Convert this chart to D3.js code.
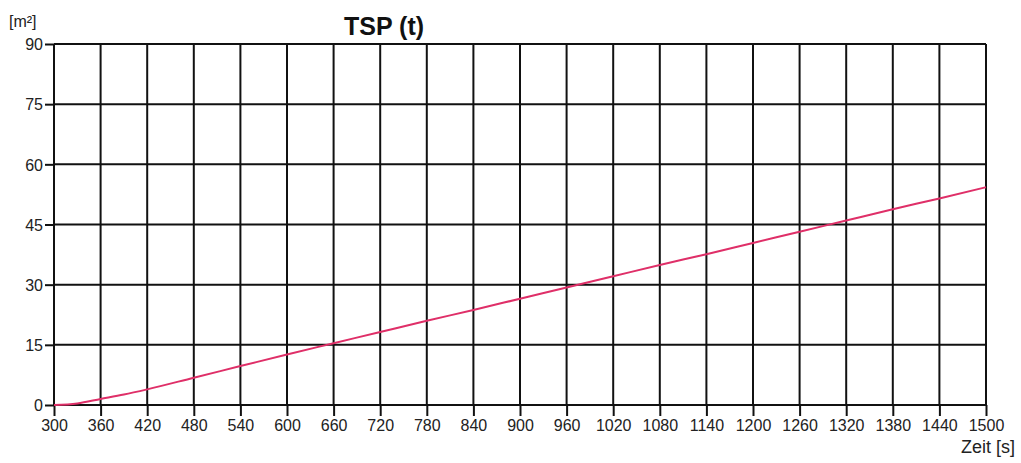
<!DOCTYPE html>
<html lang="de">
<head>
    <meta charset="UTF-8">
    <title>TSP (t)</title>
    <style>
        body { margin: 0; background: #fff; }
        svg { display: block; }
        text { font-family: "Liberation Sans", Arial, sans-serif; fill: #222; }
    </style>
</head>
<body>
    <svg width="1021" height="463"></svg>
    <script src="https://d3js.org/d3.v7.min.js"></script>
    <script>
        // Zeit [s] and TSP [m²]
        const times = [300, 330, 360, 390, 420, 480, 540, 600, 660, 720, 780, 840, 900,
                       960, 1020, 1080, 1140, 1200, 1260, 1320, 1380, 1440, 1500];
        const tsp = [0, 0.4, 1.5, 2.6, 3.9, 6.8, 9.7, 12.6, 15.4, 18.2, 21.0, 23.7, 26.5,
                     29.3, 32.1, 34.9, 37.6, 40.4, 43.2, 46.0, 48.8, 51.5, 54.3];
        const xTicks = d3.range(300, 1501, 60);
        const yTicks = [0, 15, 30, 45, 60, 75, 90];

        const svg = d3.select("svg");
        const plotLeft = 54, plotRight = 986, plotTop = 44, plotBottom = 405;

        const x = d3.scaleLinear().domain([300, 1500]).range([plotLeft, plotRight]);
        const y = d3.scaleLinear().domain([0, 90]).range([plotBottom, plotTop]);

        // grid
        svg.append("g").selectAll("line")
            .data(xTicks)
            .join("line")
            .attr("x1", d => x(d)).attr("x2", d => x(d))
            .attr("y1", plotTop).attr("y2", plotBottom)
            .style("stroke", "#111").style("stroke-width", 2);

        svg.append("g").selectAll("line")
            .data(yTicks)
            .join("line")
            .attr("x1", plotLeft).attr("x2", plotRight)
            .attr("y1", d => y(d)).attr("y2", d => y(d))
            .style("stroke", "#111").style("stroke-width", 2);

        // axes
        const xAxis = d3.axisBottom(x).tickValues(xTicks).tickSize(11).tickPadding(4).tickFormat(d3.format("d"));
        const yAxis = d3.axisLeft(y).tickValues(yTicks).tickSize(9).tickPadding(2);

        const gx = svg.append("g").attr("transform", `translate(0,${plotBottom})`).call(xAxis);
        const gy = svg.append("g").attr("transform", `translate(${plotLeft},0)`).call(yAxis);
        [gx, gy].forEach(g => {
            g.select(".domain").remove();
            g.selectAll(".tick line").style("stroke", "#111").style("stroke-width", 2);
            g.selectAll(".tick text").style("font-size", "16px").style("fill", "#222")
                .style("font-family", "'Liberation Sans', Arial, sans-serif");
        });
        gy.selectAll(".tick text").attr("dy", "0.36em");

        // curve
        const line = d3.line()
            .x((d, i) => x(times[i]))
            .y(d => y(d))
            .curve(d3.curveMonotoneX);

        svg.append("path")
            .datum(tsp)
            .attr("d", line)
            .style("fill", "none")
            .style("stroke", "#df2f68")
            .style("stroke-width", 2);

        // labels
        svg.append("text")
            .attr("x", 384).attr("y", 35)
            .attr("text-anchor", "middle")
            .style("font-size", "25px").style("font-weight", "bold")
            .style("fill", "#111")
            .text("TSP (t)");

        svg.append("text")
            .attr("x", 9).attr("y", 27)
            .style("font-size", "16px")
            .text("[m²]");

        svg.append("text")
            .attr("x", 1015).attr("y", 453)
            .attr("text-anchor", "end")
            .style("font-size", "18px")
            .text("Zeit [s]");
    </script>
</body>
</html>
